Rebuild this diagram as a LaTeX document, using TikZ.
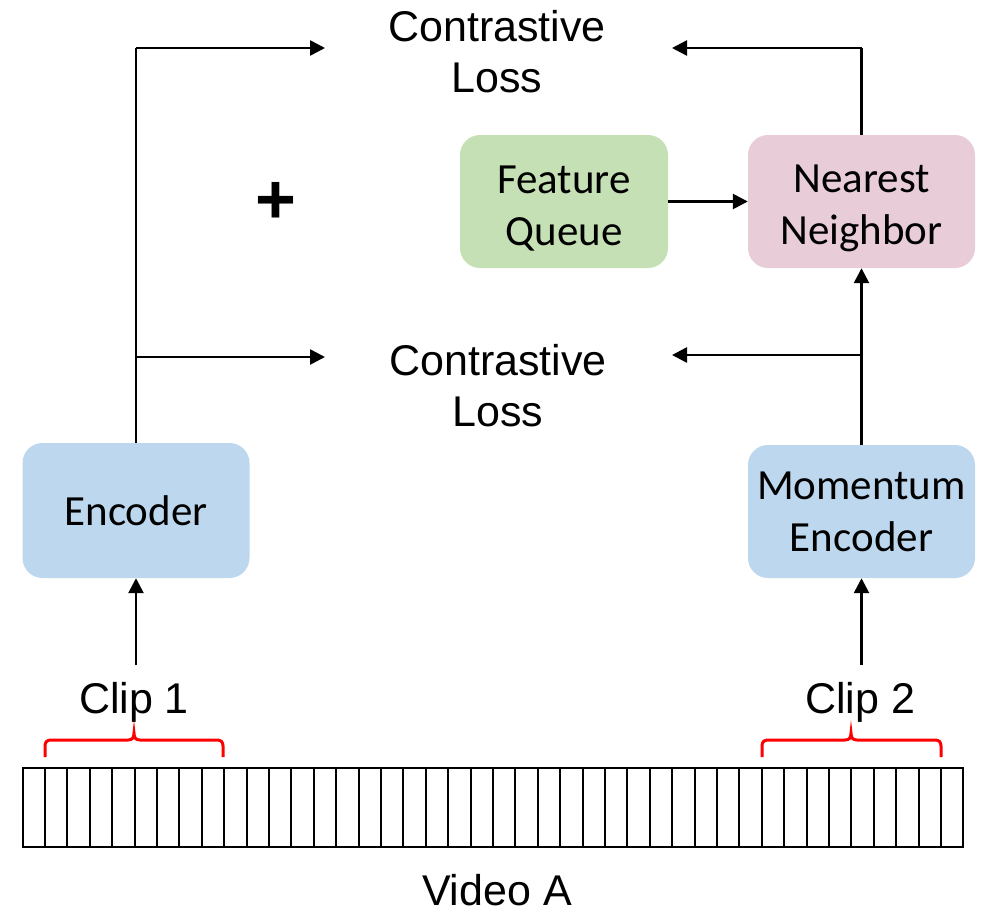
\documentclass[tikz,border=0pt]{standalone}
\usepackage{fontspec}
\setmainfont{Liberation Sans}
\newfontfamily\boxfont{Carlito}
\usetikzlibrary{arrows.meta}
\definecolor{encblue}{HTML}{BDD7EE}
\definecolor{qgreen}{HTML}{C5E0B4}
\definecolor{nnpink}{HTML}{E8CDD9}
\begin{document}
\begin{tikzpicture}[x=1pt,y=-1pt,
  box/.style={rounded corners=20pt, inner sep=0pt, align=center, font=\boxfont\fontsize{43}{52}\selectfont},
  lbl/.style={inner sep=0pt, align=center, font=\fontsize{43}{51}\selectfont},
  conn/.style={line width=2.6pt, -{Triangle[length=15pt,width=15pt]}},
  plain/.style={line width=2.6pt},
  frame/.style={line width=2pt},
  brace/.style={red, line width=3pt}]
\useasboundingbox (0,0) rectangle (987,913);
% boxes
\node[box, fill=encblue, minimum width=227pt, minimum height=135pt] (enc) at (136,510.5) {Encoder};
\node[box, fill=encblue, minimum width=227pt, minimum height=133pt] (menc) at (861.5,511.5) {Momentum\\Encoder};
\node[box, fill=qgreen, minimum width=208pt, minimum height=133pt] (fq) at (564,201.5) {\rule{0pt}{42pt}Feature\\Queue};
\node[box, fill=nnpink, minimum width=227pt, minimum height=133pt] (nn) at (861.5,201.5) {\rule{0pt}{42pt}Nearest\\Neighbor};
% labels
\node[lbl] (cl1) at (497,52) {Contrastive\\Loss};
\node[lbl] (cl2) at (498,386) {Contrastive\\Loss};
\node[inner sep=0pt, font=\bfseries\fontsize{70}{70}\selectfont] (plus) at (275.5,203) {+};
\node[lbl, anchor=base] (clip1) at (134,713) {Clip 1};
\node[lbl, anchor=base] (clip2) at (860,713) {Clip 2};
\node[lbl, anchor=base] (video) at (497,905) {Video A};
% coordinates
\coordinate (ltop) at (136,48);
\coordinate (lmid) at (136,357);
\coordinate (cl1l) at (325,48);
\coordinate (cl2l) at (325,357);
\coordinate (rtop) at (861.5,48);
\coordinate (rmid) at (861.5,355);
\coordinate (cl1r) at (672,48);
\coordinate (cl2r) at (672,355);
\coordinate (c1up) at (136,665);
\coordinate (c2up) at (861.5,665);
% connectors
\draw[plain] (enc.north) -- (ltop);
\draw[conn] (ltop) -- (cl1l);
\draw[conn] (lmid) -- (cl2l);
\draw[conn] (c1up) -- (enc.south);
\draw[conn] (c2up) -- (menc.south);
\draw[conn] (menc.north) -- (nn.south);
\draw[conn] (rmid) -- (cl2r);
\draw[plain] (nn.north) -- (rtop);
\draw[conn] (rtop) -- (cl1r);
\draw[conn] (fq.east) -- (nn.west);
% film strip
\draw[frame] (23,768) rectangle (963,847);
\foreach \i in {1,...,41} {
  \pgfmathsetmacro{\fx}{round(22.7+\i*22.4)}
  \draw[frame] (\fx,768) -- (\fx,847);
}
% braces
\draw[brace] (45,757) -- (45,746) .. controls (45,742) and (47,740) .. (51,740) -- (128,740)
  .. controls (132,740) and (134,738) .. (134,733)
  .. controls (134,738) and (136,740) .. (140,740) -- (217,740)
  .. controls (221,740) and (223,742) .. (223,746) -- (223,757);
\draw[brace] (762,757) -- (762,746) .. controls (762,742) and (764,740) .. (768,740) -- (845,740)
  .. controls (849,740) and (851,738) .. (851,733)
  .. controls (851,738) and (853,740) .. (857,740) -- (935,740)
  .. controls (939,740) and (941,742) .. (941,746) -- (941,757);
\end{tikzpicture}
\end{document}
